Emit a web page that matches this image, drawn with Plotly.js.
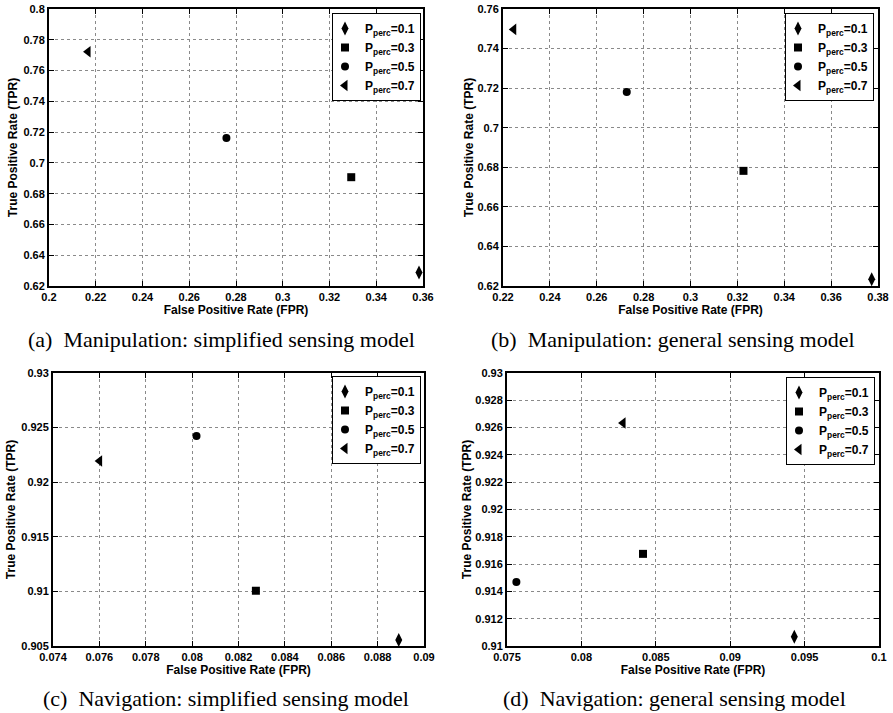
<!DOCTYPE html>
<html>
<head>
<meta charset="utf-8">
<script src="https://cdn.plot.ly/plotly-3.0.1.min.js"></script>
<style>html,body{margin:0;padding:0;background:#fff;}#chart{width:893px;height:713px;}</style>
</head>
<body>
<div id="chart"></div>
<script>
// ---- data ----
const pPerc = [0.1, 0.3, 0.5, 0.7];
const symbols = ['diamond-tall', 'square', 'circle', 'triangle-left'];

// (a) Manipulation: simplified sensing model
const fprA = [0.3583, 0.3293, 0.2759, 0.2167];
const tprA = [0.6287, 0.6907, 0.7161, 0.7722];
// (b) Manipulation: general sensing model
const fprB = [0.3773, 0.3226, 0.2728, 0.2246];
const tprB = [0.6234, 0.6782, 0.7180, 0.7497];
// (c) Navigation: simplified sensing model
const fprC = [0.08891, 0.08275, 0.08019, 0.07601];
const tprC = [0.90555, 0.91006, 0.92424, 0.92195];
// (d) Navigation: general sensing model
const fprD = [0.09431, 0.08414, 0.07563, 0.08280];
const tprD = [0.91068, 0.91675, 0.91469, 0.92633];

const captions = [
  '(a)  Manipulation: simplified sensing model',
  '(b)  Manipulation: general sensing model',
  '(c)  Navigation: simplified sensing model',
  '(d)  Navigation: general sensing model'
];
const xTitle = 'False Positive Rate (FPR)';
const yTitle = 'True Positive Rate (TPR)';

// ---- build ----
const panels = [
  {fpr: fprA, tpr: tprA, xa: 'x',  ya: 'y',  leg: 'legend'},
  {fpr: fprB, tpr: tprB, xa: 'x2', ya: 'y2', leg: 'legend2'},
  {fpr: fprC, tpr: tprC, xa: 'x3', ya: 'y3', leg: 'legend3'},
  {fpr: fprD, tpr: tprD, xa: 'x4', ya: 'y4', leg: 'legend4'}
];
const markerSizes = [10, 8, 8, 10];

const traces = [];
panels.forEach(p => {
  pPerc.forEach((v, i) => {
    traces.push({
      type: 'scatter', mode: 'markers',
      x: [p.fpr[i]], y: [p.tpr[i]],
      xaxis: p.xa, yaxis: p.ya, legend: p.leg,
      name: 'P<sub>perc</sub>=' + v,
      marker: {symbol: symbols[i], color: 'black', size: markerSizes[i],
               line: {width: 0}},
      hoverinfo: 'x+y'
    });
  });
});

const W = 893, H = 713;
const tickFont = {family: 'Liberation Sans, Arial, sans-serif', size: 11, color: 'black', weight: 'bold'};
const titleFont = {family: 'Liberation Sans, Arial, sans-serif', size: 12, color: 'black', weight: 'bold'};

function axis(domain, range, dtick, title, standoff) {
  return {
    domain: domain, range: range, dtick: dtick, tick0: range[0],
    showline: true, linecolor: 'black', linewidth: 2, mirror: 'ticks',
    ticks: 'inside', ticklen: 5, tickwidth: 1, tickcolor: 'black',
    showgrid: true, gridcolor: '#8a8a8a', griddash: 'dot', gridwidth: 1,
    zeroline: false, tickfont: tickFont, automargin: false,
    title: {text: title, font: titleFont, standoff: standoff}
  };
}
const px = (a, b) => [a / W, b / W];
const py = (top, bottom) => [1 - bottom / H, 1 - top / H];

function legend(right, top) {
  return {
    x: right / W, y: 1 - top / H, xanchor: 'right', yanchor: 'top',
    xref: 'paper', yref: 'paper',
    bgcolor: 'white', bordercolor: 'black', borderwidth: 1,
    font: {family: 'Liberation Sans, Arial, sans-serif', size: 12, color: 'black', weight: 'bold'},
    tracegroupgap: 0, itemwidth: 30, indentation: -8
  };
}

const annotations = [
  {t: captions[0], x: 221, y: 339},
  {t: captions[1], x: 673, y: 339},
  {t: captions[2], x: 226, y: 698},
  {t: captions[3], x: 674, y: 698}
].map(c => ({
  text: c.t, x: c.x / W, y: 1 - c.y / H, xref: 'paper', yref: 'paper',
  xanchor: 'center', yanchor: 'middle', showarrow: false,
  font: {family: 'Liberation Serif, Times New Roman, serif', size: 22, color: 'black'}
}));

const layout = {
  width: W, height: H,
  margin: {l: 0, r: 0, t: 0, b: 0},
  paper_bgcolor: 'white', plot_bgcolor: 'white',
  showlegend: true,
  xaxis:  axis(px(49, 423),  [0.2, 0.36],   0.02,  xTitle, 2),
  yaxis:  axis(py(9, 286),   [0.62, 0.8],   0.02,  yTitle, 3),
  xaxis2: axis(px(503, 878), [0.22, 0.38],  0.02,  xTitle, 2),
  yaxis2: axis(py(9, 286),   [0.62, 0.76],  0.02,  yTitle, 1),
  xaxis3: axis(px(53, 424),  [0.074, 0.09], 0.002, xTitle, 2),
  yaxis3: axis(py(373, 646), [0.905, 0.93], 0.005, yTitle, 3),
  xaxis4: axis(px(507, 879), [0.075, 0.1],  0.005, xTitle, 2),
  yaxis4: axis(py(373, 646), [0.91, 0.93],  0.002, yTitle, 1),
  legend:  legend(421, 13),
  legend2: legend(874, 13),
  legend3: legend(421, 376),
  legend4: legend(875, 377),
  annotations: annotations
};
layout.xaxis.anchor = 'y';   layout.yaxis.anchor = 'x';
layout.xaxis2.anchor = 'y2'; layout.yaxis2.anchor = 'x2';
layout.xaxis3.anchor = 'y3'; layout.yaxis3.anchor = 'x3';
layout.xaxis4.anchor = 'y4'; layout.yaxis4.anchor = 'x4';

Plotly.newPlot('chart', traces, layout, {displayModeBar: false, staticPlot: true});
</script>
</body>
</html>
